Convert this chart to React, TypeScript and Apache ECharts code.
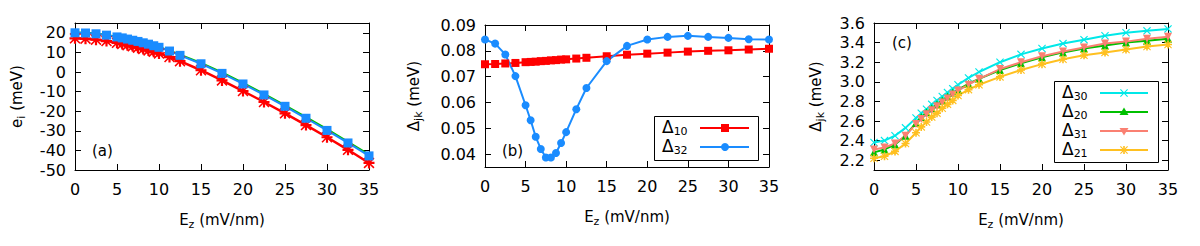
import React, { useEffect, useRef } from "react";
import * as echarts from "echarts";

const X_FIELD = [0, 1.25, 2.5, 3.75, 5, 5.625, 6.25, 6.875, 7.5, 8.125, 8.75, 9.375, 10, 11.25, 12.5, 15, 17.5, 20, 22.5, 25, 27.5, 30, 32.5, 35];

// panel (a): energies e_i (meV)
const E_RED = [17.2, 17.0, 16.5, 15.8, 14.9, 14.3, 13.7, 13.1, 12.4, 11.7, 11.0, 10.3, 9.5, 7.6, 5.5, 0.9, -4.3, -9.7, -15.3, -21.1, -27.1, -33.3, -39.7, -46.4];
const E_GREEN = [20.1, 20.0, 19.6, 18.9, 18.0, 17.5, 16.9, 16.3, 15.7, 15.0, 14.3, 13.5, 12.8, 10.9, 8.8, 4.6, -0.2, -5.6, -11.2, -17.0, -23.0, -29.2, -35.6, -42.1];
const E_BLUE = [20.0, 19.9, 19.5, 18.8, 17.9, 17.4, 16.8, 16.2, 15.6, 14.9, 14.2, 13.4, 12.6, 10.7, 8.5, 4.2, -0.7, -6.1, -11.7, -17.5, -23.6, -29.8, -36.2, -42.8];

// panel (b): small gaps
const D10 = [0.0748, 0.0749, 0.0751, 0.0753, 0.0756, 0.0757, 0.0758, 0.0760, 0.0761, 0.0763, 0.0764, 0.0766, 0.0767, 0.0770, 0.0773, 0.0779, 0.0785, 0.0789, 0.0793, 0.0797, 0.0800, 0.0802, 0.0805, 0.0808];
const D32 = [0.0844, 0.0828, 0.0786, 0.0702, 0.0589, 0.0531, 0.0467, 0.0420, 0.0387, 0.0387, 0.0404, 0.0443, 0.0485, 0.0574, 0.0656, 0.0760, 0.0819, 0.0844, 0.0854, 0.0858, 0.0854, 0.0850, 0.0845, 0.0844];

// panel (c): large gaps
const D30 = [2.38, 2.40, 2.45, 2.53, 2.63, 2.68, 2.72, 2.77, 2.81, 2.85, 2.89, 2.93, 2.97, 3.04, 3.10, 3.20, 3.28, 3.34, 3.39, 3.43, 3.47, 3.50, 3.52, 3.54];
const D20 = [2.28, 2.31, 2.36, 2.45, 2.58, 2.64, 2.69, 2.73, 2.77, 2.81, 2.85, 2.89, 2.92, 2.98, 3.03, 3.12, 3.19, 3.25, 3.30, 3.34, 3.37, 3.40, 3.42, 3.44];
const D31 = [2.31, 2.33, 2.37, 2.45, 2.57, 2.62, 2.67, 2.71, 2.75, 2.79, 2.83, 2.87, 2.91, 2.97, 3.03, 3.13, 3.20, 3.26, 3.31, 3.35, 3.39, 3.41, 3.44, 3.46];
const D21 = [2.22, 2.24, 2.29, 2.37, 2.48, 2.54, 2.59, 2.64, 2.68, 2.73, 2.77, 2.81, 2.86, 2.92, 2.97, 3.05, 3.12, 3.18, 3.23, 3.27, 3.30, 3.33, 3.36, 3.38];

const X_TICKS = [0, 5, 10, 15, 20, 25, 30, 35];
const YA_TICKS = [-50, -40, -30, -20, -10, 0, 10, 20];
const YB_TICKS = [0.04, 0.05, 0.06, 0.07, 0.08, 0.09];
const YC_TICKS = [2.2, 2.4, 2.6, 2.8, 3.0, 3.2, 3.4, 3.6];

const FONT = "DejaVu Sans";
const C_RED = "#ff0000";
const C_BLUE = "#1a8cff";
const C_GREEN = "#00c000";
const C_CYAN = "#00e8e8";
const C_SALMON = "#fa8072";
const C_ORANGE = "#ffc020";

const STAR = "path://M4,0 H6 V4 H10 V6 H6 V10 H4 V6 H0 V4 H4 Z M1,0 L5,4 L9,0 L10,1 L6,5 L10,9 L9,10 L5,6 L1,10 L0,9 L4,5 L0,1 Z";
const CROSS = "path://M1,0 L5,4 L9,0 L10,1 L6,5 L10,9 L9,10 L5,6 L1,10 L0,9 L4,5 L0,1 Z";

const pts = (ys: number[]) => X_FIELD.map((x, i) => [x, ys[i]]);

const subRich = {
  s: { fontSize: 11, lineHeight: 11, verticalAlign: "bottom", fontFamily: FONT, color: "#000" },
};

function xAxes(grid: number) {
  const base = {
    gridIndex: grid,
    type: "value",
    min: 0,
    max: 35,
    axisLine: { show: true, onZero: false, lineStyle: { color: "#000", width: 1 } },
    axisTick: { show: true, inside: true, length: 6, customValues: X_TICKS, lineStyle: { color: "#000" } },
    splitLine: { show: false },
  };
  return [
    {
      ...base,
      position: "bottom",
      axisLabel: { show: true, customValues: X_TICKS, margin: 11, fontSize: 16, fontFamily: FONT, color: "#000" },
      name: "E{s|z} (mV/nm)",
      nameLocation: "middle",
      nameGap: 40,
      nameTextStyle: { fontSize: 15, fontFamily: FONT, color: "#000", lineHeight: 20, rich: subRich },
    },
    { ...base, position: "top", axisLabel: { show: false } },
  ];
}

function yAxes(grid: number, min: number, max: number, ticks: number[], digits: number, name: string, gap: number) {
  const base = {
    gridIndex: grid,
    type: "value",
    min,
    max,
    axisLine: { show: true, onZero: false, lineStyle: { color: "#000", width: 1 } },
    axisTick: { show: true, inside: true, length: 6, customValues: ticks, lineStyle: { color: "#000" } },
    splitLine: { show: false },
  };
  return [
    {
      ...base,
      position: "left",
      axisLabel: {
        show: true,
        customValues: ticks,
        margin: 9,
        fontSize: 16,
        fontFamily: FONT,
        color: "#000",
        formatter: (v: number) => v.toFixed(digits),
      },
      name,
      nameLocation: "middle",
      nameGap: gap,
      nameTextStyle: { fontSize: 15, fontFamily: FONT, color: "#000", lineHeight: 20, rich: subRich },
    },
    { ...base, position: "right", axisLabel: { show: false } },
  ];
}

function lineSeries(name: string, data: number[], grid: number, color: string, symbol: string, size: number, width: number, extra: any = {}) {
  return {
    name,
    type: "line",
    xAxisIndex: grid * 2,
    yAxisIndex: grid * 2,
    data: pts(data),
    symbol,
    symbolSize: size,
    showSymbol: symbol !== "none",
    lineStyle: { color, width },
    itemStyle: { color, borderWidth: 0 },
    ...extra,
  };
}

function legendText(x: number, y: number, sub: string) {
  return {
    type: "text",
    left: x,
    top: y,
    style: {
      text: "{d|Δ}{s|" + sub + "}",
      rich: {
        d: { fontSize: 17, lineHeight: 20, fontFamily: FONT, fill: "#000" },
        s: { fontSize: 11, lineHeight: 11, verticalAlign: "bottom", fontFamily: FONT, fill: "#000" },
      },
    },
  };
}

function legendLine(x1: number, x2: number, y: number, color: string) {
  return { type: "line", shape: { x1, y1: y, x2, y2: y }, style: { stroke: color, lineWidth: 2 } };
}

function crossPoints(cx: number, cy: number, r: number) {
  const k = r / 5;
  const p = [[1, 0], [5, 4], [9, 0], [10, 1], [6, 5], [10, 9], [9, 10], [5, 6], [1, 10], [0, 9], [4, 5], [0, 1]];
  return p.map(([a, b]) => [cx + (a - 5) * k, cy + (b - 5) * k]);
}
function plusPoints(cx: number, cy: number, r: number) {
  const k = r / 5;
  const p = [[4, 0], [6, 0], [6, 4], [10, 4], [10, 6], [6, 6], [6, 10], [4, 10], [4, 6], [0, 6], [0, 4], [4, 4]];
  return p.map(([a, b]) => [cx + (a - 5) * k, cy + (b - 5) * k]);
}

export default function App() {
  const ref = useRef<HTMLDivElement>(null);
  useEffect(() => {
    if (!ref.current) return;
    const chart = echarts.init(ref.current, undefined, { renderer: "svg" });
    const option: any = {
      animation: false,
      backgroundColor: "#fff",
      textStyle: { fontFamily: FONT },
      grid: [
        { left: 75, top: 23, width: 294, height: 147 },
        { left: 485, top: 25, width: 284, height: 142 },
        { left: 874, top: 23, width: 294, height: 147 },
      ],
      xAxis: [...xAxes(0), ...xAxes(1), ...xAxes(2)],
      yAxis: [
        ...yAxes(0, -50, 25, YA_TICKS, 0, "e{s|i} (meV)", 48),
        ...yAxes(1, 0.035, 0.09, YB_TICKS, 2, "Δ{s|jk} (meV)", 61),
        ...yAxes(2, 2.1, 3.6, YC_TICKS, 1, "Δ{s|jk} (meV)", 48),
      ],
      series: [
        lineSeries("e_red", E_RED, 0, C_RED, STAR, 11, 2.5),
        lineSeries("e_green", E_GREEN, 0, C_GREEN, "none", 0, 2),
        lineSeries("e_blue", E_BLUE, 0, C_BLUE, "rect", 9, 2),
        lineSeries("Δ10", D10, 1, C_RED, "rect", 8, 2),
        lineSeries("Δ32", D32, 1, C_BLUE, "circle", 8, 2),
        lineSeries("Δ30", D30, 2, C_CYAN, CROSS, 8, 2),
        lineSeries("Δ20", D20, 2, C_GREEN, "triangle", 8, 2),
        lineSeries("Δ31", D31, 2, C_SALMON, "triangle", 8, 2, { symbolRotate: 180 }),
        lineSeries("Δ21", D21, 2, C_ORANGE, STAR, 8, 2),
      ],
      graphic: [
        { type: "text", left: 92, top: 143, style: { text: "(a)", fontSize: 15, fontFamily: FONT, fill: "#000" } },
        { type: "text", left: 502, top: 143, style: { text: "(b)", fontSize: 15, fontFamily: FONT, fill: "#000" } },
        { type: "text", left: 892, top: 35, style: { text: "(c)", fontSize: 15, fontFamily: FONT, fill: "#000" } },
        // legend (b)
        { type: "rect", shape: { x: 654.5, y: 116.5, width: 104, height: 44 }, style: { fill: "#fff", stroke: "#000", lineWidth: 1 } },
        legendText(662, 118, "10"),
        legendLine(700, 749, 128, C_RED),
        { type: "rect", shape: { x: 721, y: 124, width: 8, height: 8 }, style: { fill: C_RED } },
        legendText(662, 137, "32"),
        legendLine(700, 749, 147, C_BLUE),
        { type: "circle", shape: { cx: 725, cy: 147, r: 4 }, style: { fill: C_BLUE } },
        // legend (c)
        { type: "rect", shape: { x: 1054.5, y: 81.5, width: 104, height: 81 }, style: { fill: "#fff", stroke: "#000", lineWidth: 1 } },
        legendText(1062, 83, "30"),
        legendLine(1100, 1148, 93, C_CYAN),
        { type: "polygon", shape: { points: crossPoints(1124, 93, 4) }, style: { fill: C_CYAN } },
        legendText(1062, 102, "20"),
        legendLine(1100, 1148, 112, C_GREEN),
        { type: "polygon", shape: { points: [[1124, 107.5], [1128.5, 115], [1119.5, 115]] }, style: { fill: C_GREEN } },
        legendText(1062, 121, "31"),
        legendLine(1100, 1148, 131, C_SALMON),
        { type: "polygon", shape: { points: [[1124, 135.5], [1128.5, 128], [1119.5, 128]] }, style: { fill: C_SALMON } },
        legendText(1062, 140, "21"),
        legendLine(1100, 1148, 150, C_ORANGE),
        { type: "polygon", shape: { points: crossPoints(1124, 150, 4) }, style: { fill: C_ORANGE } },
        { type: "polygon", shape: { points: plusPoints(1124, 150, 4) }, style: { fill: C_ORANGE } },
      ],
    };
    chart.setOption(option);
    return () => chart.dispose();
  }, []);
  return (
    <div
      ref={ref}
      style={{ position: "fixed", left: 0, top: 0, width: 1200, height: 246, background: "#fff" }}
    />
  );
}
